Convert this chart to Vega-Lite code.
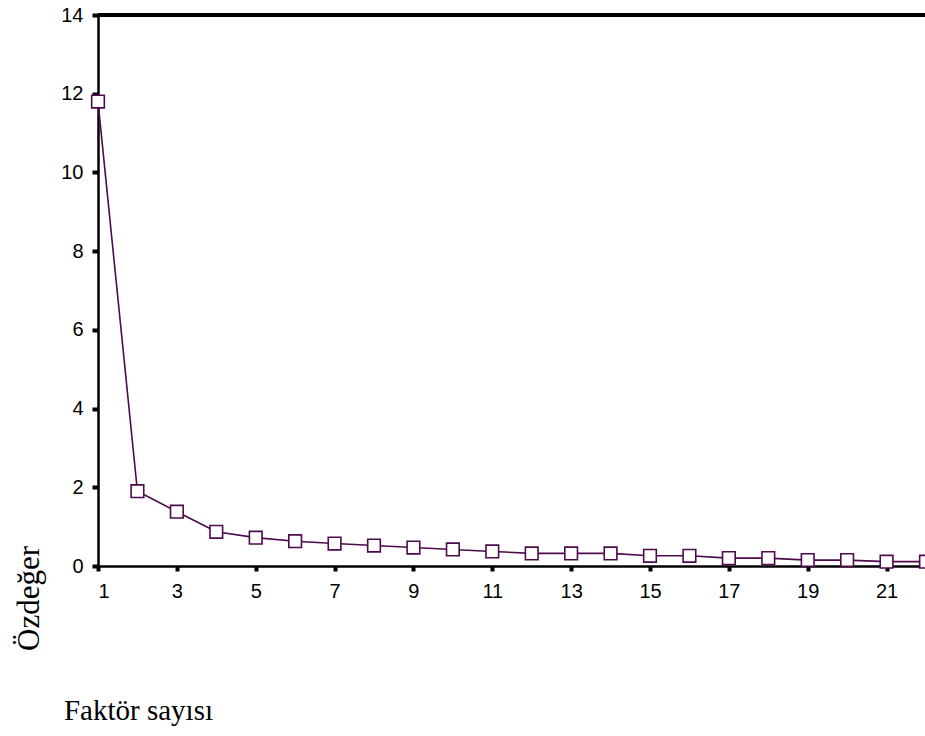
{
  "$schema": "https://vega.github.io/schema/vega-lite/v6.json",
  "autosize": {"type": "none"},
  "padding": {"left": 98, "top": 15, "right": 0, "bottom": 170},
  "width": 828,
  "height": 551,
  "background": "white",
  "config": {"view": {"stroke": null}},
  "data": {"values": [
    {"factor": 1, "eigen": 11.8},
    {"factor": 2, "eigen": 1.9},
    {"factor": 3, "eigen": 1.38},
    {"factor": 4, "eigen": 0.87},
    {"factor": 5, "eigen": 0.72},
    {"factor": 6, "eigen": 0.63},
    {"factor": 7, "eigen": 0.57},
    {"factor": 8, "eigen": 0.52},
    {"factor": 9, "eigen": 0.47},
    {"factor": 10, "eigen": 0.42},
    {"factor": 11, "eigen": 0.37},
    {"factor": 12, "eigen": 0.32},
    {"factor": 13, "eigen": 0.32},
    {"factor": 14, "eigen": 0.32},
    {"factor": 15, "eigen": 0.26},
    {"factor": 16, "eigen": 0.26},
    {"factor": 17, "eigen": 0.2},
    {"factor": 18, "eigen": 0.2},
    {"factor": 19, "eigen": 0.15},
    {"factor": 20, "eigen": 0.15},
    {"factor": 21, "eigen": 0.11},
    {"factor": 22, "eigen": 0.11}
  ]},
  "layer": [
    {
      "mark": {"type": "rule", "color": "black", "strokeWidth": 2.5},
      "encoding": {"y": {"datum": 14, "type": "quantitative"}}
    },
    {
      "mark": {"type": "line", "color": "#4d0a4d", "strokeWidth": 1.6, "clip": false},
      "encoding": {
        "x": {
          "field": "factor", "type": "quantitative",
          "scale": {"domain": [1, 22], "nice": false, "zero": false},
          "axis": {
            "values": [1, 3, 5, 7, 9, 11, 13, 15, 17, 19, 21],
            "grid": false,
            "domainColor": "black", "domainWidth": 2.5,
            "tickColor": "black", "tickSize": 5, "tickWidth": 4,
            "labelFont": "Liberation Sans", "labelFontSize": 20, "labelColor": "black",
            "labelPadding": 10,
            "title": "Faktör sayısı",
            "titleFont": "Liberation Serif", "titleFontSize": 29, "titleFontWeight": "normal",
            "titleColor": "black",
            "titleX": 40, "titleY": 153, "titleAlign": "center", "titleBaseline": "alphabetic", "titleAnchor": null
          }
        },
        "y": {
          "field": "eigen", "type": "quantitative",
          "scale": {"domain": [0, 14], "nice": false},
          "axis": {
            "values": [0, 2, 4, 6, 8, 10, 12, 14],
            "grid": false,
            "domainColor": "black", "domainWidth": 2.5,
            "tickColor": "black", "tickSize": 6, "tickWidth": 4,
            "labelFont": "Liberation Sans", "labelFontSize": 20, "labelColor": "black",
            "labelPadding": 9,
            "title": "Özdeğer",
            "titleFont": "Liberation Serif", "titleFontSize": 31, "titleFontWeight": "normal",
            "titleColor": "black",
            "titleX": -69, "titleY": 583, "titleAngle": 270, "titleAlign": "center", "titleBaseline": "middle", "titleAnchor": null
          }
        }
      }
    },
    {
      "mark": {"type": "point", "shape": "square", "filled": true, "fill": "white", "stroke": "#4d0a4d", "strokeWidth": 1.6, "size": 160, "opacity": 1, "clip": false},
      "encoding": {
        "x": {"field": "factor", "type": "quantitative"},
        "y": {"field": "eigen", "type": "quantitative"}
      }
    }
  ]
}
